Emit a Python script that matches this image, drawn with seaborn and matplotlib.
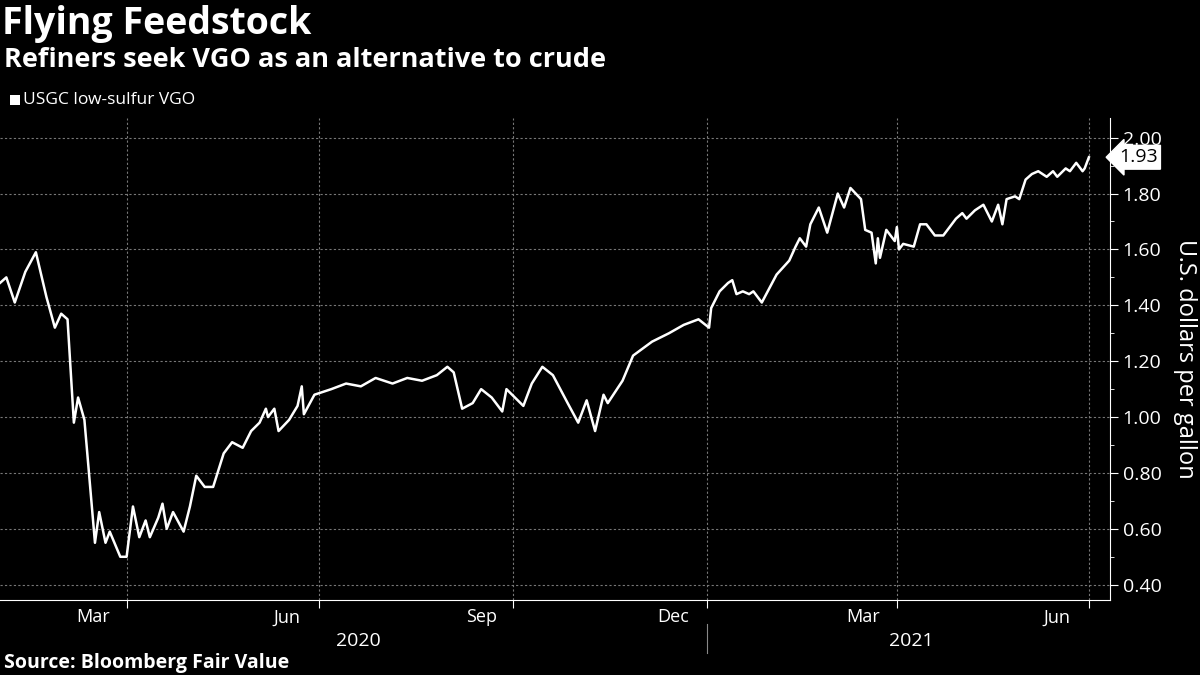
#!/usr/bin/env python3
"""Flying Feedstock: USGC low-sulfur VGO price line chart."""

import matplotlib.pyplot as plt
from matplotlib.patches import Rectangle
from matplotlib.ticker import MultipleLocator
import pandas as pd
import seaborn as sns

plt.rcParams["font.family"] = "Open Sans"

BASE_DATE = "2020-01-30"
# days after BASE_DATE
DAYS = [
    2, 5, 9, 14, 19, 24, 28, 31, 34, 37, 39, 42, 47, 49, 52, 54, 59, 62, 65, 68,
    71, 73, 77, 79, 81, 84, 89, 92, 95, 99, 103, 108, 112, 117, 121, 125, 128, 129,
    132, 134, 139, 143, 145, 146, 151, 159, 166, 173, 180, 188, 195, 202, 209, 214,
    217, 221, 226, 230, 235, 240, 242, 250, 254, 259, 264, 271, 276, 280, 284, 288,
    290, 297, 302, 311, 319, 326, 333, 338, 339, 343, 347, 349, 351, 354, 357, 359,
    363, 370, 376, 379, 381, 384, 386, 390, 394, 399, 402, 405, 410, 412, 415, 417,
    418, 419, 422, 426, 427, 428, 430, 435, 438, 441, 445, 449, 455, 458, 460, 464,
    468, 472, 475, 477, 479, 483, 485, 488, 491, 494, 498, 501, 503, 507, 509, 512,
    515, 516, 518,
]
PRICE = [
    1.48, 1.50, 1.41, 1.52, 1.59, 1.43, 1.32, 1.37, 1.35, 0.98, 1.07, 0.99, 0.55, 0.66,
    0.55, 0.59, 0.50, 0.50, 0.68, 0.57, 0.63, 0.57, 0.64, 0.69, 0.60, 0.66, 0.59, 0.68,
    0.79, 0.75, 0.75, 0.87, 0.91, 0.89, 0.95, 0.98, 1.03, 1.00, 1.03, 0.95, 0.99, 1.04,
    1.11, 1.01, 1.08, 1.10, 1.12, 1.11, 1.14, 1.12, 1.14, 1.13, 1.15, 1.18, 1.16, 1.03,
    1.05, 1.10, 1.07, 1.02, 1.10, 1.04, 1.12, 1.18, 1.15, 1.05, 0.98, 1.06, 0.95, 1.08,
    1.05, 1.13, 1.22, 1.27, 1.30, 1.33, 1.35, 1.32, 1.39, 1.45, 1.48, 1.49, 1.44, 1.45,
    1.44, 1.45, 1.41, 1.51, 1.56, 1.61, 1.64, 1.61, 1.69, 1.75, 1.66, 1.80, 1.75, 1.82,
    1.78, 1.67, 1.66, 1.55, 1.64, 1.57, 1.67, 1.63, 1.68, 1.60, 1.62, 1.61, 1.69, 1.69,
    1.65, 1.65, 1.71, 1.73, 1.71, 1.74, 1.76, 1.70, 1.76, 1.69, 1.78, 1.79, 1.78, 1.85,
    1.87, 1.88, 1.86, 1.88, 1.86, 1.89, 1.88, 1.91, 1.88, 1.89, 1.93,
]
Y_TICKS = [0.40, 0.60, 0.80, 1.00, 1.20, 1.40, 1.60, 1.80, 2.00]
QUARTER_STARTS = ["2020-04-01", "2020-07-01", "2020-10-01", "2021-01-01", "2021-04-01", "2021-07-01"]
MONTH_LABELS = ["Mar", "Jun", "Sep", "Dec", "Mar", "Jun"]
MONTH_LABEL_DATES = ["2020-03-16", "2020-06-16", "2020-09-16", "2020-12-16", "2021-03-16", "2021-06-16"]
YEAR_LABELS = ["2020", "2021"]


def main():
    df = pd.DataFrame({
        "date": pd.Timestamp(BASE_DATE) + pd.to_timedelta(DAYS, unit="D"),
        "price": PRICE,
    })

    fig = plt.figure(figsize=(12, 6.75), dpi=100, facecolor="black")
    ax = fig.add_axes([0.0, 0.111, 0.925, 0.714], facecolor="black")

    sns.lineplot(data=df, x="date", y="price", ax=ax, color="white", linewidth=1.8)

    ax.set_xlim(pd.Timestamp("2020-02-01"), pd.Timestamp("2021-07-11"))
    ax.set_ylim(0.345, 2.07)

    ax.yaxis.tick_right()
    ax.yaxis.set_label_position("right")
    ax.set_yticks(Y_TICKS)
    ax.set_yticklabels([f"{v:.2f}" for v in Y_TICKS])
    ax.yaxis.set_minor_locator(MultipleLocator(0.1))
    ax.set_ylabel("U.S. dollars per gallon", color="white", fontsize=17, rotation=270, labelpad=26)
    ax.set_xlabel("")

    ax.set_xticks(pd.to_datetime(QUARTER_STARTS))
    ax.set_xticklabels([""] * len(QUARTER_STARTS))
    ax.set_xticks(pd.to_datetime(MONTH_LABEL_DATES), minor=True)
    ax.set_xticklabels(MONTH_LABELS, minor=True)
    ax.tick_params(axis="x", which="minor", length=0, pad=6, labelsize=13, colors="white")
    ax.tick_params(axis="x", which="major", length=6, color="white")
    ax.tick_params(axis="y", which="major", length=6, labelsize=14, colors="white", pad=3)
    ax.tick_params(axis="y", which="minor", length=3, color="white")

    ax.grid(True, which="major", color="#777777", linestyle=(0, (2, 2)), linewidth=0.8)
    for side in ["left", "top"]:
        ax.spines[side].set_visible(False)
    for side in ["right", "bottom"]:
        ax.spines[side].set_color("white")

    # year labels and divider
    trans = ax.get_xaxis_transform()
    ax.text(pd.Timestamp("2020-07-20"), -0.085, YEAR_LABELS[0], transform=trans,
            color="white", fontsize=14, ha="center", va="center")
    ax.text(pd.Timestamp("2021-04-08"), -0.085, YEAR_LABELS[1], transform=trans,
            color="white", fontsize=14, ha="center", va="center")
    ax.plot([pd.Timestamp("2021-01-01")] * 2, [-0.05, -0.11], transform=trans,
            color="#888888", linewidth=0.8, clip_on=False)

    # last value tag
    last = df["price"].iloc[-1]
    ax.text(1.008, last, f"{last:.2f}", transform=ax.get_yaxis_transform(),
            fontsize=14, color="black", va="center", ha="left",
            bbox=dict(boxstyle="larrow,pad=0.15", facecolor="white", edgecolor="white"))

    fig.text(0.002, 0.965, "Flying Feedstock", color="white", fontsize=27, fontweight="bold", va="center")
    fig.text(0.003, 0.911, "Refiners seek VGO as an alternative to crude", color="white",
             fontsize=19.5, fontweight="bold", va="center")
    fig.patches.append(Rectangle((0.008, 0.844), 0.009, 0.016, transform=fig.transFigure,
                                 facecolor="white", edgecolor="none"))
    fig.text(0.019, 0.852, "USGC low-sulfur VGO", color="white", fontsize=12.5, va="center")
    fig.text(0.003, 0.018, "Source: Bloomberg Fair Value", color="white", fontsize=14,
             fontweight="bold", va="center")

    fig.savefig("out.png", dpi=100, facecolor="black")
    plt.close(fig)


if __name__ == "__main__":
    main()
